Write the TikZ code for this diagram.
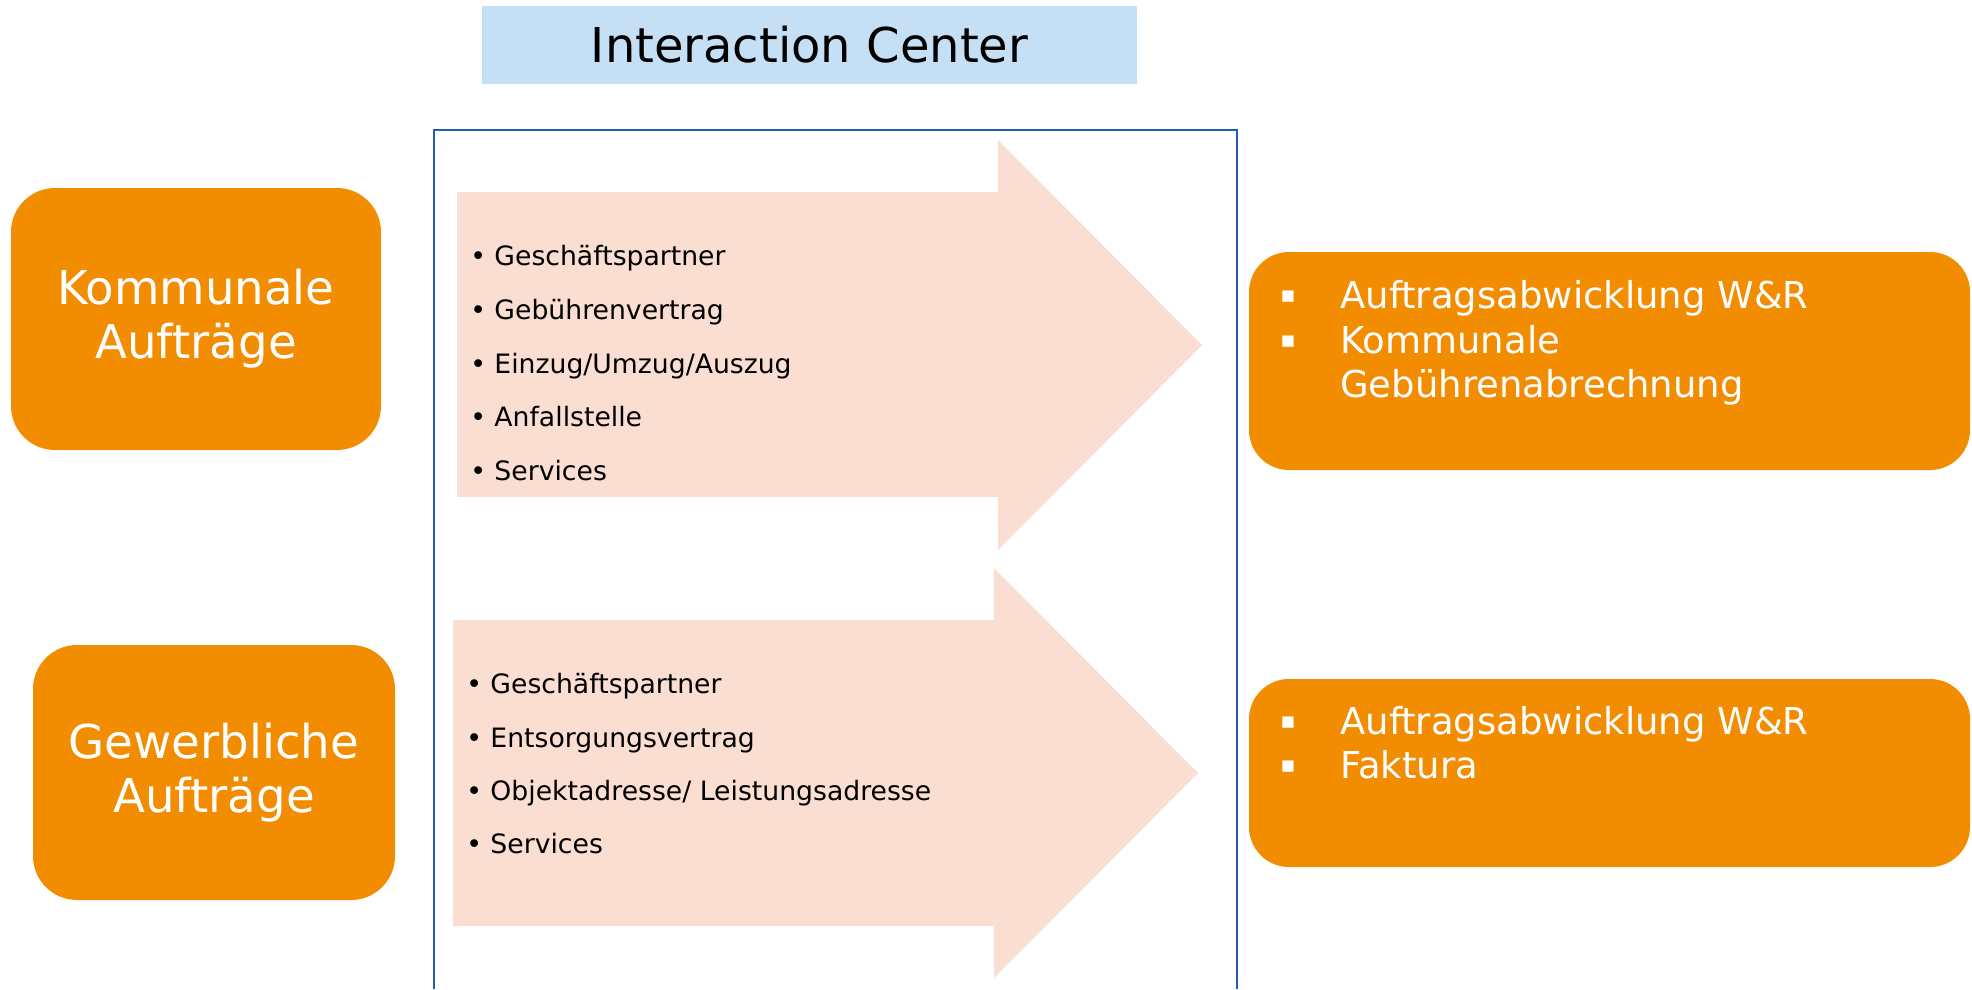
\documentclass[tikz,border=0pt]{standalone}
\usepackage{fontspec}
\setmainfont{DejaVu Sans}
\definecolor{auftragorange}{RGB}{242,140,0}
\definecolor{pfeilrosa}{RGB}{249,222,209}
\definecolor{kopfblau}{RGB}{197,223,245}
\definecolor{rahmenblau}{RGB}{31,95,175}
\tikzset{
  auftragbox/.style={fill=auftragorange, rounded corners=33pt, text=white, align=center, inner sep=0pt, font=\fontsize{35}{40.5}\selectfont},
  zielbox/.style={fill=auftragorange, rounded corners=30pt, inner sep=0pt, minimum width=540.75pt, minimum height=163.5pt},
  zieltext/.style={anchor=base west, inner sep=0pt, text=white, font=\fontsize{27.75}{33}\selectfont},
  zielpunkt/.style={anchor=base west, inner sep=0pt, text=white, font=\fontsize{17}{20}\selectfont},
  listtext/.style={anchor=base west, inner sep=0pt, font=\fontsize{20}{24}\selectfont},
}
\begin{document}
\begin{tikzpicture}[x=0.75pt,y=0.75pt,yscale=-1,xscale=1]
\useasboundingbox (0,0) rectangle (1972,989);
% Kopf
\node [fill=kopfblau, minimum width=491.25pt, minimum height=58.5pt, inner sep=0pt, font=\fontsize{36}{43}\selectfont] (kopf) at (809.5,45) {Interaction Center};
% Rahmen
\draw [rahmenblau, line width=2pt] (434,989) -- (434,130) -- (1237,130) -- (1237,989);
% Pfeile
\fill [pfeilrosa] (457,192) -- (998,192) -- (998,140) -- (1202,345) -- (998,550) -- (998,497) -- (457,497) -- cycle;
\fill [pfeilrosa] (453,620) -- (994,620) -- (994,568) -- (1198,773) -- (994,978) -- (994,926) -- (453,926) -- cycle;
% Auftraege links
\node [auftragbox, minimum width=277.5pt, minimum height=196.5pt] (kommunal) at (196,319) {Kommunale\\Aufträge};
\node [auftragbox, minimum width=271.5pt, minimum height=191.25pt] (gewerbe) at (214,772.5) {Gewerbliche\\Aufträge};
% Listen in den Pfeilen
\draw (470,265) node [listtext] (k1) {• Geschäftspartner};
\draw (470,319) node [listtext] (k2) {• Gebührenvertrag};
\draw (470,373) node [listtext] (k3) {• Einzug/Umzug/Auszug};
\draw (470,426) node [listtext] (k4) {• Anfallstelle};
\draw (470,480) node [listtext] (k5) {• Services};
\draw (466,693) node [listtext] (g1) {• Geschäftspartner};
\draw (466,747) node [listtext] (g2) {• Entsorgungsvertrag};
\draw (466,800) node [listtext] (g3) {• Objektadresse/ Leistungsadresse};
\draw (466,853) node [listtext] (g4) {• Services};
% Ziele rechts
\node [zielbox] (zielkommunal) at (1609.5,361) {};
\node [zielbox, minimum height=141pt] (zielgewerbe) at (1609.5,773) {};
\draw (1280,302) node [zielpunkt] (zk1b) {▪};
\draw (1280,347) node [zielpunkt] (zk2b) {▪};
\draw (1340,308) node [zieltext] (zk1) {Auftragsabwicklung W\&R};
\draw (1340,353) node [zieltext] (zk2) {Kommunale};
\draw (1340,397) node [zieltext] (zk3) {Gebührenabrechnung};
\draw (1280,728) node [zielpunkt] (zg1b) {▪};
\draw (1280,772) node [zielpunkt] (zg2b) {▪};
\draw (1340,734) node [zieltext] (zg1) {Auftragsabwicklung W\&R};
\draw (1340,778) node [zieltext] (zg2) {Faktura};
\end{tikzpicture}
\end{document}
